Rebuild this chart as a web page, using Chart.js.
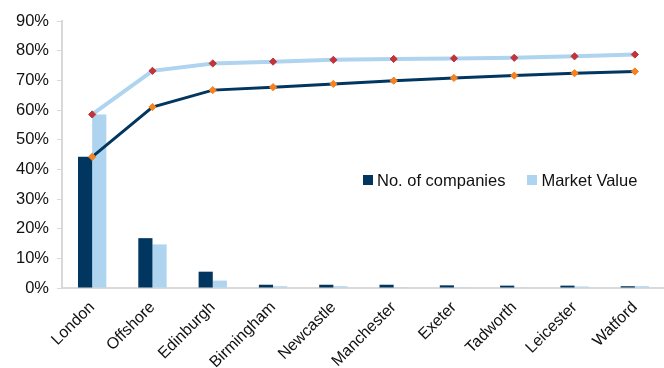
<!DOCTYPE html>
<html><head><meta charset="utf-8">
<script src="https://cdn.jsdelivr.net/npm/chart.js@4/dist/chart.umd.min.js"></script>
<style>
html,body{margin:0;padding:0;background:#fff;overflow:hidden;}
#wrap{position:relative;width:664px;height:368px;overflow:hidden;}
#legend{position:absolute;left:363px;top:171px;font-family:"Liberation Sans",Arial,sans-serif;font-size:16.5px;color:#111;white-space:nowrap;}
#legend span.sw{display:inline-block;width:10px;height:10px;margin-right:4px;vertical-align:1px;}
</style></head>
<body><div id="wrap"><canvas id="c" width="670" height="368"></canvas>
<div id="legend"><span class="sw" style="background:#003660"></span>No. of companies<span style="display:inline-block;width:22px"></span><span class="sw" style="background:#aed4f0"></span>Market Value</div></div>
<script>
const categories = ["London","Offshore","Edinburgh","Birmingham","Newcastle","Manchester","Exeter","Tadworth","Leicester","Watford"];
const companies = [44.2,16.8,5.5,1.1,1.1,1.1,0.9,0.8,0.8,0.6];
const marketValue = [58.5,14.7,2.5,0.6,0.6,0.3,0.2,0.2,0.5,0.6];
const cumCompanies = [44.2,61.0,66.7,67.7,68.8,69.9,70.8,71.6,72.4,73.0];
const cumMarketValue = [58.5,73.2,75.7,76.3,76.9,77.2,77.4,77.6,78.1,78.7];
const yTicks = [0,10,20,30,40,50,60,70,80,90];

const fam = '"Liberation Sans", Arial, sans-serif';
new Chart(document.getElementById('c'), {
  data:{
    labels:categories,
    datasets:[
      {type:'line',label:'Cumulative Market Value',data:cumMarketValue,borderColor:'#aed4f0',borderWidth:4,
       pointStyle:'rectRot',pointRadius:3.6,pointBackgroundColor:'#c0343a',pointBorderColor:'#c0343a',pointBorderWidth:1,order:0,tension:0},
      {type:'line',label:'Cumulative No. of companies',data:cumCompanies,borderColor:'#003660',borderWidth:3,
       pointStyle:'rectRot',pointRadius:3.6,pointBackgroundColor:'#f5821f',pointBorderColor:'#f5821f',pointBorderWidth:1,order:0,tension:0},
      {type:'bar',label:'No. of companies',data:companies,backgroundColor:'#003660',order:1,
       categoryPercentage:0.47,barPercentage:1},
      {type:'bar',label:'Market Value',data:marketValue,backgroundColor:'#aed4f0',order:1,
       categoryPercentage:0.47,barPercentage:1}
    ]
  },
  options:{
    responsive:false,animation:false,
    layout:{padding:{top:21,right:0,left:8,bottom:0}},
    plugins:{legend:{display:false},tooltip:{enabled:false}},
    scales:{
      x:{grid:{display:false},border:{color:'#d9d9d9',width:2},
         afterFit:(s)=>{s.height=80;},
         ticks:{font:{family:fam,size:16},color:'#111',maxRotation:45,minRotation:45,padding:2}},
      y:{min:0,max:90,
         afterBuildTicks:(s)=>{s.ticks=yTicks.map(v=>({value:v}));},
         grid:{drawOnChartArea:false,tickLength:5,color:'#d9d9d9'},border:{color:'#d9d9d9',width:2},
         ticks:{font:{family:fam,size:16.5},color:'#111',padding:8,callback:(v)=>v+'%'}}
    }
  }
});
</script></body></html>
